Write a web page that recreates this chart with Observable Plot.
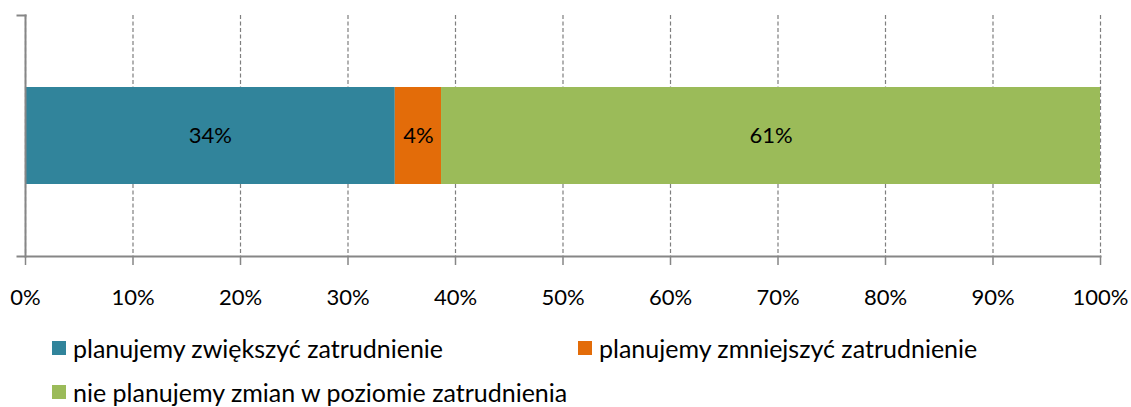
<!DOCTYPE html>
<html>
<head>
<meta charset="utf-8">
<script src="https://cdn.jsdelivr.net/npm/d3@7"></script>
<script src="https://cdn.jsdelivr.net/npm/@observablehq/plot@0.6"></script>
<style>
  body { margin: 0; background: #fff; font-family: Lato, "Open Sans", sans-serif; }
  #wrap { position: relative; width: 1131px; height: 407px; overflow: hidden; }
  .leg { position: absolute; display: flex; align-items: center; font-size: 25px; line-height: 30px; color: #000; white-space: nowrap; }
  .sw { width: 14px; height: 14px; margin-right: 7px; flex: none; }
</style>
</head>
<body>
<div id="wrap"><div id="chart"></div></div>
<script>
const categories = ["planujemy zwiększyć zatrudnienie", "planujemy zmniejszyć zatrudnienie", "nie planujemy zmian w poziomie zatrudnienia"];
const values = [34.4, 4.3, 61.3];
const colors = ["#31849B", "#E36C09", "#9BBB59"];
const xTicks = [0, 10, 20, 30, 40, 50, 60, 70, 80, 90, 100];

const data = categories.map((c, i) => ({row: "r", category: c, value: values[i]}));

const chart = Plot.plot({
  width: 1131,
  height: 330,
  marginLeft: 25,
  marginRight: 31,
  marginTop: 15,
  marginBottom: 74,
  style: {fontFamily: "Lato, 'Open Sans', sans-serif", fontSize: "22px", color: "#000", background: "#fff"},
  x: {domain: [0, 100], ticks: xTicks, tickFormat: d => d + "%", label: null},
  y: {domain: ["r"], axis: null, padding: 0.426, label: null},
  color: {domain: categories, range: colors},
  marks: [
    Plot.gridX(xTicks, {stroke: "#7f7f7f", strokeOpacity: 1, strokeDasharray: "4,2.5", strokeWidth: 1.2}),
    Plot.barX(data, Plot.stackX({x: "value", y: "row", fill: "category", order: categories})),
    Plot.text(data, Plot.stackX({x: "value", y: "row", z: "category", order: categories, text: d => Math.round(d.value) + "%", fill: "#000", fontSize: 22})),
    Plot.axisX({ticks: xTicks, tickFormat: d => d + "%", tickSize: 9, tickPadding: 24, stroke: "#868686", strokeOpacity: 1, strokeWidth: 1.5, fill: "#000", fontSize: 22, label: null}),
    Plot.frame({anchor: "bottom", stroke: "#868686", strokeWidth: 2, insetLeft: -8}),
    Plot.frame({anchor: "left", stroke: "#868686", strokeWidth: 2}),
    Plot.frame({anchor: "top", stroke: "#868686", strokeWidth: 2, insetLeft: -8, insetRight: 1075})
  ]
});
document.getElementById("chart").appendChild(chart);

const legendPos = [[52, 348], [578, 348], [52, 392]];
categories.forEach((c, i) => {
  const d = document.createElement("div");
  d.className = "leg";
  d.style.left = legendPos[i][0] + "px";
  d.style.top = (legendPos[i][1] - 15) + "px";
  d.style.height = "30px";
  d.innerHTML = `<span class="sw" style="background:${colors[i]}"></span><span></span>`;
  d.lastChild.textContent = c;
  document.getElementById("wrap").appendChild(d);
});
</script>
</body>
</html>
